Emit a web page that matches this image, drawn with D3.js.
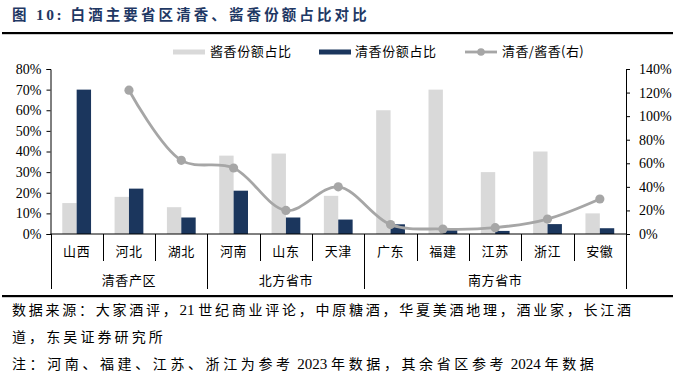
<!DOCTYPE html>
<html>
<head>
<meta charset="utf-8">
<script src="https://cdn.jsdelivr.net/npm/d3@7"></script>
<style>
  html, body { margin: 0; padding: 0; background: #fff; }
  svg { display: block; }
</style>
</head>
<body>
<svg id="chart" width="673" height="383"></svg>
<script>
// ---------- data ----------
const categories = ["山西", "河北", "湖北", "河南", "山东", "天津", "广东", "福建", "江苏", "浙江", "安徽"];
const jiangShare = [0.15, 0.18, 0.13, 0.38, 0.39, 0.185, 0.60, 0.70, 0.30, 0.40, 0.10];   // 酱香份额占比 (left)
const qingShare  = [0.70, 0.22, 0.08, 0.21, 0.08, 0.07, 0.047, 0.02, 0.015, 0.048, 0.028]; // 清香份额占比 (left)
const ratio      = [null, 1.22, 0.625, 0.56, 0.20, 0.40, 0.08, 0.042, 0.054, 0.127, 0.297]; // 清香/酱香 (right)
const groups = [
  { name: "清香产区", from: 0, to: 2 },
  { name: "北方省市", from: 3, to: 5 },
  { name: "南方省市", from: 6, to: 10 }
];
const leftTicks  = [0, 0.1, 0.2, 0.3, 0.4, 0.5, 0.6, 0.7, 0.8];
const rightTicks = [0, 0.2, 0.4, 0.6, 0.8, 1.0, 1.2, 1.4];
const seriesNames = ["酱香份额占比", "清香份额占比", "清香/酱香(右)"];
const title = "图 10: 白酒主要省区清香、酱香份额占比对比";
const sourceLines = [
  "数据来源：大家酒评，21 世纪商业评论，中原糖酒，华夏美酒地理，酒业家，长江酒",
  "道，东吴证券研究所",
  "注：河南、福建、江苏、浙江为参考 2023 年数据，其余省区参考 2024 年数据"
];

// ---------- style ----------
const C_LIGHT = "#d9d9d9", C_DARK = "#1b365d", C_LINE = "#a6a6a6", C_TITLE = "#1f3864";
const CJK = "'Noto Sans CJK SC', 'Noto Sans', sans-serif";
const SERIF = "'Liberation Serif', 'DejaVu Serif', serif";

const svg = d3.select("#chart");
const X0 = 50.5, X1 = 626, Y0 = 234, Y1 = 69;

// mixed text: CJK runs spaced, latin runs in serif
function mixedText(sel, str, cjkSpacing, size, weight, latinSpacing) {
  const parts = str.match(/[\x00-\x7f]+|[^\x00-\x7f]+/g);
  parts.forEach(p => {
    const latin = /^[\x00-\x7f]+$/.test(p);
    sel.append("tspan")
      .style("font-family", latin ? SERIF : CJK)
      .attr("font-size", latin ? size + 1 : size)
      .attr("font-weight", weight || "normal")
      .attr("letter-spacing", latin ? (latinSpacing || 0) : cjkSpacing)
      .text(latin ? p.replace(/ /g, "\u00a0") : p);
  });
}

// ---------- title ----------
const t = svg.append("text").attr("x", 12).attr("y", 20).attr("fill", C_TITLE);
mixedText(t, title, 3.1, 14.5, "bold", 2.5);
svg.append("rect").attr("x", 2).attr("y", 32).attr("width", 671).attr("height", 2.2).attr("fill", "#000");
svg.append("rect").attr("x", 2).attr("y", 295).attr("width", 671).attr("height", 2.2).attr("fill", "#000");

// ---------- scales ----------
const x = d3.scaleBand().domain(categories).range([X0, X1]).paddingInner(0.45).paddingOuter(0.225);
const step = (X1 - X0) / categories.length;
const yL = d3.scaleLinear().domain([0, 0.8]).range([Y0, Y1]);
const yR = d3.scaleLinear().domain([0, 1.4]).range([Y0, Y1]);
const bw = x.bandwidth() / 2;

// ---------- bars ----------
svg.append("g").selectAll("rect").data(categories).join("rect")
  .attr("x", d => x(d)).attr("width", bw)
  .attr("y", (d, i) => yL(jiangShare[i])).attr("height", (d, i) => Y0 - yL(jiangShare[i]))
  .attr("fill", C_LIGHT);
svg.append("g").selectAll("rect").data(categories).join("rect")
  .attr("x", d => x(d) + bw).attr("width", bw)
  .attr("y", (d, i) => yL(qingShare[i])).attr("height", (d, i) => Y0 - yL(qingShare[i]))
  .attr("fill", C_DARK);

// ---------- line ----------
const cx = d => x(d) + x.bandwidth() / 2;
const pts = categories.map((c, i) => ({ c, v: ratio[i] })).filter(p => p.v != null);
const line = d3.line().x(p => cx(p.c)).y(p => yR(p.v)).curve(d3.curveCatmullRom.alpha(0.5));
svg.append("path").datum(pts).attr("d", line).attr("fill", "none")
  .attr("stroke", C_LINE).attr("stroke-width", 2.8);
svg.append("g").selectAll("circle").data(pts).join("circle")
  .attr("cx", p => cx(p.c)).attr("cy", p => yR(p.v)).attr("r", 4.6).attr("fill", C_LINE);

// ---------- axes ----------
const fmt = d3.format(".0%");
const gL = svg.append("g").attr("transform", `translate(${X0},0)`)
  .call(d3.axisLeft(yL).tickValues(leftTicks).tickFormat(fmt).tickSize(4).tickPadding(5));
const gR = svg.append("g").attr("transform", `translate(${X1},0)`)
  .call(d3.axisRight(yR).tickValues(rightTicks).tickFormat(fmt).tickSize(4).tickPadding(9));
[gL, gR].forEach(g => {
  g.attr("font-family", null).attr("font-size", null);
  g.select(".domain").attr("stroke", "#000").attr("stroke-width", 1);
  g.selectAll(".tick line").attr("stroke", "#000");
  g.selectAll("text").style("font-family", SERIF).style("font-size", "14px").attr("fill", "#000");
});

// x axis line
svg.append("line").attr("x1", X0).attr("x2", X1).attr("y1", Y0).attr("y2", Y0)
  .attr("stroke", "#000").attr("stroke-width", 1);

// category separators
const boundaries = d3.range(categories.length + 1);
const groupBounds = new Set([0, ...groups.map(g => g.to + 1)]);
svg.append("g").selectAll("line").data(boundaries).join("line")
  .attr("x1", i => Math.round(X0 + i * step) + 0.5).attr("x2", i => Math.round(X0 + i * step) + 0.5)
  .attr("y1", Y0).attr("y2", i => groupBounds.has(i) ? 289 : 261)
  .attr("stroke", "#000").attr("stroke-width", 1);

// category labels
svg.append("g").selectAll("text").data(categories).join("text")
  .attr("x", d => cx(d)).attr("y", 256).attr("text-anchor", "middle")
  .attr("font-family", CJK).attr("font-size", 13).attr("letter-spacing", 0.6).attr("fill", "#000").text(d => d);

// group labels
svg.append("g").selectAll("text").data(groups).join("text")
  .attr("x", g => X0 + ((g.from + g.to + 1) / 2) * step).attr("y", 284.5).attr("text-anchor", "middle")
  .attr("font-family", CJK).attr("font-size", 13).attr("letter-spacing", 0.6).attr("fill", "#000").text(g => g.name);

// ---------- legend ----------
const lg = svg.append("g").attr("font-family", CJK).attr("font-size", 13).attr("fill", "#000");
lg.append("rect").attr("x", 173).attr("y", 49.5).attr("width", 32).attr("height", 5).attr("fill", C_LIGHT);
lg.append("text").attr("x", 210).attr("y", 56).attr("letter-spacing", 0.6).text(seriesNames[0]);
lg.append("rect").attr("x", 319).attr("y", 49.5).attr("width", 32).attr("height", 5).attr("fill", C_DARK);
lg.append("text").attr("x", 355).attr("y", 56).attr("letter-spacing", 0.6).text(seriesNames[1]);
lg.append("line").attr("x1", 465).attr("x2", 497).attr("y1", 52).attr("y2", 52)
  .attr("stroke", C_LINE).attr("stroke-width", 2.8);
lg.append("circle").attr("cx", 481).attr("cy", 52).attr("r", 3.8).attr("fill", C_LINE);
lg.append("text").attr("x", 502).attr("y", 56).attr("letter-spacing", 0.4).text(seriesNames[2]);

// ---------- footer ----------
const foot = svg.append("g").attr("fill", "#000");
const f1 = foot.append("text").attr("x", 12).attr("y", 315);
mixedText(f1, sourceLines[0], 2.75, 14);
const f2 = foot.append("text").attr("x", 12).attr("y", 342);
mixedText(f2, sourceLines[1], 3.1, 14);
const f3 = foot.append("text").attr("x", 12).attr("y", 369);
mixedText(f3, sourceLines[2], 3.6, 14);
</script>
</body>
</html>
